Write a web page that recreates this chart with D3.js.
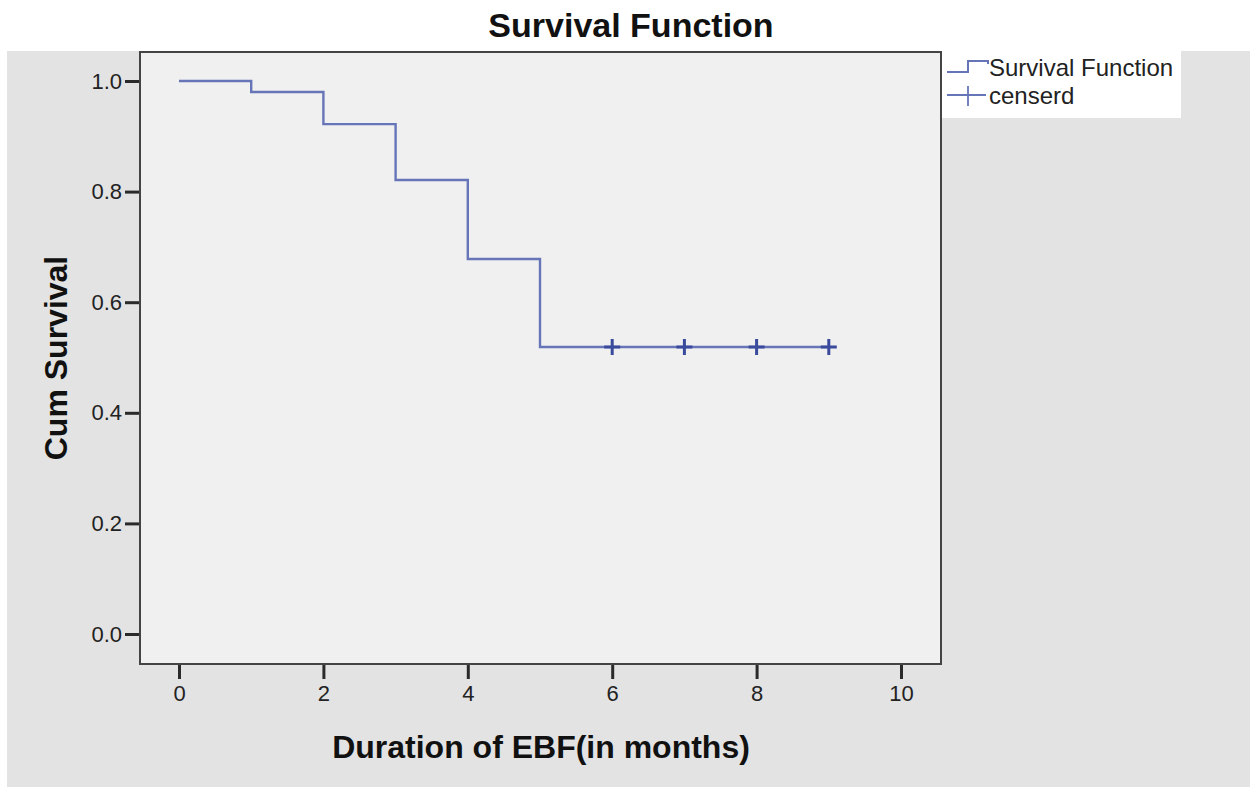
<!DOCTYPE html>
<html>
<head>
<meta charset="utf-8">
<script src="https://cdn.jsdelivr.net/npm/d3@7"></script>
<style>
  body { margin: 0; background: #fff; }
  text { font-family: "Liberation Sans", Arial, sans-serif; }
</style>
</head>
<body>
<svg width="1250" height="788"></svg>
<script>
const svg = d3.select("svg");

// data
const stepTimes = [0, 1, 2, 3, 4, 5, 9];
const survival = [1.0, 0.980, 0.922, 0.821, 0.678, 0.519, 0.519];
const censoredTimes = [6, 7, 8, 9];
const censoredValues = [0.519, 0.519, 0.519, 0.519];
const xTicks = [0, 2, 4, 6, 8, 10];
const yTicks = [0.0, 0.2, 0.4, 0.6, 0.8, 1.0];

const plot = { left: 140, top: 52, right: 941, bottom: 664 };

const xScale = d3.scaleLinear().domain([0, 10]).range([179, 901]);
const yScale = d3.scaleLinear().domain([0, 1]).range([634, 81]);

// outer gray panel
svg.append("rect")
    .attr("x", 7).attr("y", 51)
    .attr("width", 1243).attr("height", 736)
    .attr("fill", "#e3e3e3");

// plot area
svg.append("rect")
    .attr("x", plot.left).attr("y", plot.top)
    .attr("width", plot.right - plot.left)
    .attr("height", plot.bottom - plot.top)
    .attr("fill", "#f0f0f0")
    .attr("stroke", "#444")
    .attr("stroke-width", 2);

// axes
const xAxis = d3.axisBottom(xScale).tickValues(xTicks).tickSize(14).tickPadding(6).tickFormat(d3.format("d"));
const yAxis = d3.axisLeft(yScale).tickValues(yTicks).tickSize(14).tickPadding(3).tickFormat(d3.format(".1f"));

const xAxisG = svg.append("g")
    .attr("transform", `translate(0, ${plot.bottom + 1})`)
    .call(xAxis);
const yAxisG = svg.append("g")
    .attr("transform", `translate(${plot.left - 1}, 0)`)
    .call(yAxis);

[xAxisG, yAxisG].forEach(g => {
    g.select(".domain").remove();
    g.selectAll(".tick line").attr("stroke", "#2a2a2a").attr("stroke-width", 3);
    g.selectAll(".tick text")
        .attr("fill", "#222")
        .attr("font-family", "Liberation Sans, Arial, sans-serif")
        .attr("font-size", 22);
});

// survival step line
const points = stepTimes.map((t, i) => [t, survival[i]]);
const line = d3.line()
    .x(d => xScale(d[0]))
    .y(d => yScale(d[1]))
    .curve(d3.curveStepAfter);

svg.append("path")
    .datum(points)
    .attr("d", line)
    .attr("fill", "none")
    .attr("stroke", "#6675b8")
    .attr("stroke-width", 2.4);

// censored marks
const marks = censoredTimes.map((t, i) => [t, censoredValues[i]]);
svg.selectAll(".cens")
    .data(marks)
    .enter().append("path")
    .attr("class", "cens")
    .attr("d", d => {
        const x = xScale(d[0]), y = yScale(d[1]);
        return `M${x - 8},${y}H${x + 8}M${x},${y - 8}V${y + 8}`;
    })
    .attr("stroke", "#3a4a9c")
    .attr("stroke-width", 3)
    .attr("fill", "none");

// title
svg.append("text")
    .attr("x", 631).attr("y", 37)
    .attr("text-anchor", "middle")
    .style("font-size", "34px")
    .style("font-weight", "bold")
    .attr("fill", "#111")
    .text("Survival Function");

// axis labels
svg.append("text")
    .attr("x", 541).attr("y", 758)
    .attr("text-anchor", "middle")
    .style("font-size", "32px")
    .style("font-weight", "bold")
    .attr("fill", "#111")
    .text("Duration of EBF(in months)");

svg.append("text")
    .attr("transform", "translate(67, 358) rotate(-90)")
    .attr("text-anchor", "middle")
    .style("font-size", "32px")
    .style("font-weight", "bold")
    .attr("fill", "#111")
    .text("Cum Survival");

// legend
const legend = svg.append("g");
legend.append("rect")
    .attr("x", 942).attr("y", 50)
    .attr("width", 239).attr("height", 68)
    .attr("fill", "#ffffff");

legend.append("path")
    .attr("d", "M947,72H968V61H988V64")
    .attr("fill", "none")
    .attr("stroke", "#6675b8")
    .attr("stroke-width", 2);
legend.append("path")
    .attr("d", "M947,95H986M968,86V106")
    .attr("fill", "none")
    .attr("stroke", "#6675b8")
    .attr("stroke-width", 1.8);

legend.append("text")
    .attr("x", 989).attr("y", 76)
    .style("font-size", "24px")
    .attr("fill", "#222")
    .text("Survival Function");
legend.append("text")
    .attr("x", 989).attr("y", 104)
    .style("font-size", "24px")
    .attr("fill", "#222")
    .text("censerd");
</script>
</body>
</html>
